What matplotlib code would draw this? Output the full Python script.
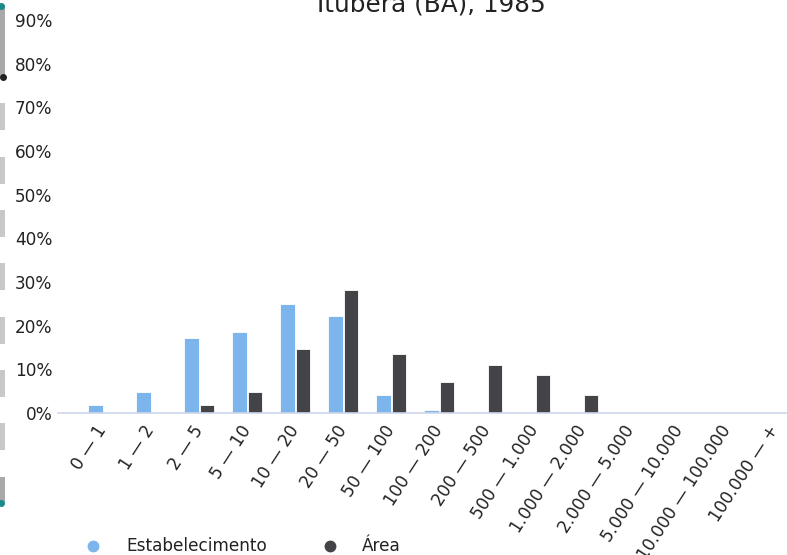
import matplotlib
matplotlib.use("Agg")
import matplotlib.pyplot as plt
from matplotlib.patches import Rectangle
from matplotlib.lines import Line2D
import numpy as np

plt.rcParams['font.family'] = ['DejaVu Sans']

title = "Ituberá (BA), 1985"
categories = ["0 — 1", "1 — 2", "2 — 5", "5 — 10", "10 — 20", "20 — 50",
              "50 — 100", "100 — 200", "200 — 500", "500 — 1.000",
              "1.000 — 2.000", "2.000 — 5.000", "5.000 — 10.000",
              "10.000 — 100.000", "100.000 — +"]
estabelecimento = [1.8, 4.7, 17.1, 18.5, 24.9, 22.1, 4.1, 0.7, 0.3, 0.05, 0.0, 0.0, 0.0, 0.0, 0.0]
area = [0.0, 0.0, 1.9, 4.9, 14.7, 28.2, 13.5, 7.1, 11.0, 8.7, 4.1, 0.0, 0.0, 0.0, 0.0]
series_names = ["Estabelecimento", "Área"]
yticks = [0, 10, 20, 30, 40, 50, 60, 70, 80, 90]

W, H = 787, 555
fig = plt.figure(figsize=(W / 100, H / 100), dpi=100)

left_px, right_px, bottom_px, top_px = 58, 787, 413, 20
ax = fig.add_axes([left_px / W, 1 - bottom_px / H,
                   (right_px - left_px) / W, (bottom_px - top_px) / H])

x = np.arange(len(categories))
bw = 0.31
blue = "#7cb5ec"
dark = "#434348"
ax.bar(x - 0.165, estabelecimento, width=bw, color=blue, edgecolor="white", linewidth=0.6)
ax.bar(x + 0.165, area, width=bw, color=dark, edgecolor="white", linewidth=0.6)

ax.set_ylim(0, 90)
ax.set_xlim(-0.94, 14.25)
ax.set_yticks(yticks)
ax.set_yticklabels([f"{v}%" for v in yticks])
ax.set_xticks(x)
ax.set_xticklabels(categories, rotation=57, ha="right", va="center",
                   rotation_mode="anchor")
for s in ["top", "right", "left"]:
    ax.spines[s].set_visible(False)
ax.spines["bottom"].set_color("#ccd6eb")
ax.spines["bottom"].set_linewidth(1.2)
ax.tick_params(axis="y", length=0, pad=4, labelsize=12.2, labelcolor="#222222")
ax.tick_params(axis="x", length=0, pad=10, labelsize=12.2, labelcolor="#222222")
ax.set_facecolor("white")

fig.text(431 / W, 1 - 12 / H, title, ha="center", va="baseline", fontsize=17.8, color="#222222")

# legend
leg_y = 1 - 546 / H
for mx, tx, name, col in [(93, 126, series_names[0], blue), (330, 362, series_names[1], dark)]:
    fig.add_artist(Line2D([mx / W], [leg_y], marker="o", markersize=7.5, color=col,
                          linestyle="none", transform=fig.transFigure))
    fig.text(tx / W, leg_y, name, ha="left", va="center", fontsize=12.2, color="#222222")

# left-edge scrollbar decoration
def rect_px(x0, y0, w, h, col):
    fig.add_artist(Rectangle((x0 / W, 1 - (y0 + h) / H), w / W, h / H,
                             transform=fig.transFigure, facecolor=col, edgecolor="none"))

rect_px(0, 5, 5, 72, "#a9a9a9")
for y0 in [103, 157, 210, 263, 317, 370, 423]:
    rect_px(0, y0, 5, 27, "#c8c8c8")
rect_px(0, 477, 5, 25, "#a9a9a9")
for (cx, cy, col) in [(1, 6, "#1a8a8a"), (3, 77, "#222222"), (1, 503, "#1a8a8a")]:
    fig.add_artist(Line2D([cx / W], [1 - cy / H], marker="o", markersize=4, color=col,
                          linestyle="none", transform=fig.transFigure))

fig.savefig("out.png", dpi=100)
